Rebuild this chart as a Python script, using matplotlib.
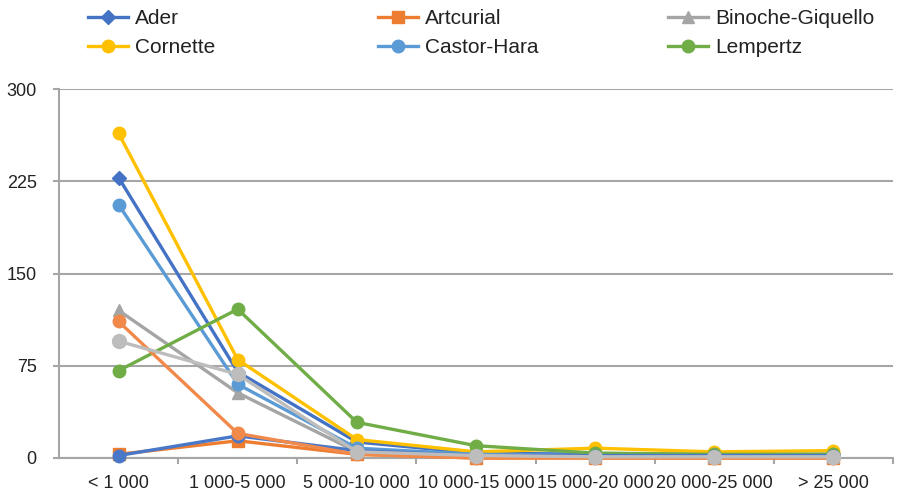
import matplotlib
matplotlib.use("Agg")
import matplotlib.pyplot as plt

categories = ['< 1 000', '1 000-5 000', '5 000-10 000', '10 000-15 000',
              '15 000-20 000', '20 000-25 000', '> 25 000']
ader = [228, 70, 13, 4, 3, 3, 3]
artcurial = [3, 14, 3, 0, 0, 0, 0]
binoche = [120, 53, 5, 2, 1, 1, 1]
cornette = [264, 80, 15, 5, 8, 5, 6]
castor_hara = [206, 60, 8, 3, 2, 2, 2]
lempertz = [71, 121, 29, 10, 4, 3, 3]
extra_blue = [2, 18, 6, 2, 2, 2, 2]
extra_orange = [111, 20, 3, 0, 0, 0, 0]
extra_gray = [95, 68, 5, 2, 1, 1, 1]

names = ['Ader', 'Artcurial', 'Binoche-Giquello', 'Cornette', 'Castor-Hara', 'Lempertz']

plt.rcParams['font.family'] = ['Liberation Sans', 'DejaVu Sans']

fig = plt.figure(figsize=(8.97, 4.96), dpi=100)
ax = fig.add_axes([59/897, (496-458)/496, (893-59)/897, (458-89)/496])

x = list(range(len(categories)))
series = [
    (ader, '#4472C4', 'D', 7.5, names[0]),
    (artcurial, '#ED7D31', 's', 8, names[1]),
    (binoche, '#A5A5A5', '^', 9, names[2]),
    (cornette, '#FFC000', 'o', 9, names[3]),
    (castor_hara, '#5B9BD5', 'o', 9, names[4]),
    (lempertz, '#70AD47', 'o', 9, names[5]),
    (extra_blue, '#4A78C8', 'o', 9, None),
    (extra_orange, '#F1894A', 'o', 9, None),
    (extra_gray, '#BDBDBD', 'o', 10, None),
]
handles = {}
for vals, c, m, ms, lab in series:
    h, = ax.plot(x, vals, color=c, marker=m, markersize=ms, linewidth=2.4,
                 markeredgecolor=c, clip_on=False, zorder=3)
    if lab:
        h.set_label(lab)
        handles[lab] = h

ax.set_xlim(-0.5, len(categories) - 0.5)
ax.set_ylim(0, 300)
ax.set_yticks([0, 75, 150, 225, 300])
ax.set_xticks(x)
ax.set_xticklabels(categories, fontsize=13, color='#222222')
ax.set_xticks([i + 0.5 for i in x], minor=True)
ax.tick_params(axis='x', which='major', length=0, pad=12)
ax.tick_params(axis='x', which='minor', length=4, color='#A6A6A6', width=1.5, direction='out')
ax.tick_params(axis='y', length=4, color='#A6A6A6', width=1.5, labelsize=13,
               labelcolor='#222222', pad=12)
ax.grid(axis='y', color='#A6A6A6', linewidth=1.5, zorder=0)
ax.set_axisbelow(True)
for s in ['top', 'right']:
    ax.spines[s].set_visible(False)
for s in ['left', 'bottom']:
    ax.spines[s].set_color('#A6A6A6')
    ax.spines[s].set_linewidth(1.5)

columns = [(['Ader', 'Cornette'], 88), (['Artcurial', 'Castor-Hara'], 378),
           (['Binoche-Giquello', 'Lempertz'], 668)]
for labs, xpix in columns:
    leg = fig.legend(handles=[handles[l] for l in labs], loc='upper left',
                     bbox_to_anchor=(xpix/897, 1 - 9/496), ncol=1,
                     frameon=False, fontsize=15, handlelength=1.9,
                     handletextpad=0.35, labelspacing=0.5, borderaxespad=0,
                     borderpad=0)
    for t in leg.get_texts():
        t.set_color('#222222')

fig.savefig('out.png', dpi=100)
